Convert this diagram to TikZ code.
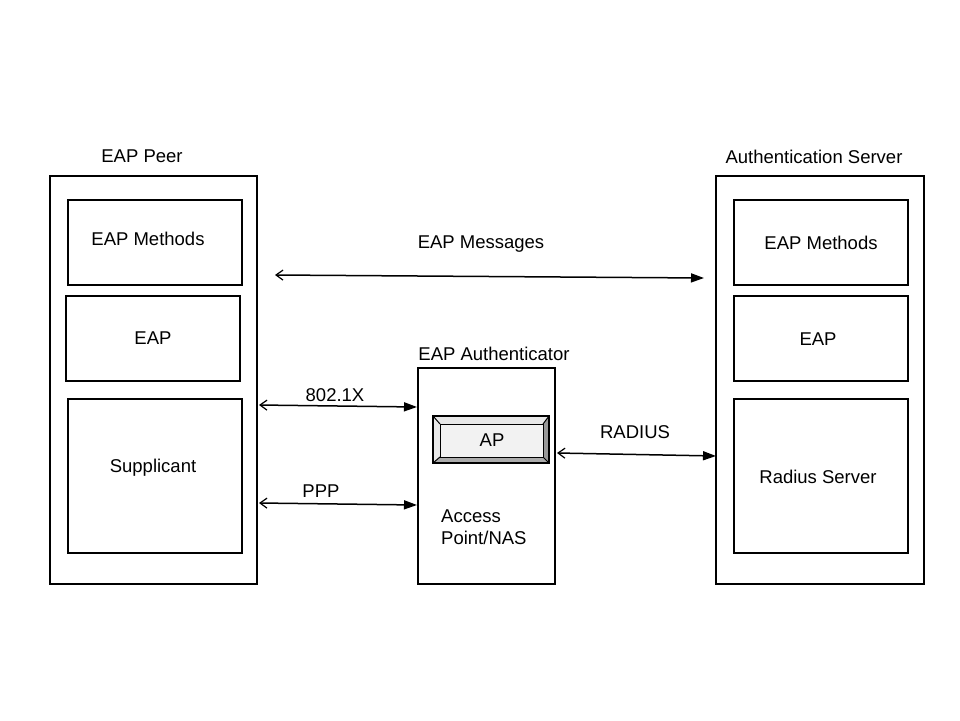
\documentclass[tikz,border=0pt]{standalone}
\usepackage{fontspec}
\setmainfont{Liberation Sans}
\usetikzlibrary{arrows.meta}
\begin{document}
\begin{tikzpicture}[x=1pt,y=-1pt,
  box/.style={draw=black,line width=1.5pt,fill=white},
  lbl/.style={inner sep=0pt,font=\fontsize{18.5}{22}\selectfont},
  arr/.style={line width=1.5pt,{Straight Barb[length=7pt,width=10pt,line width=1.2pt]}-{Triangle[length=13pt,width=9pt]}}]
\useasboundingbox (0,0) rectangle (960,720);
\fill[white] (0,0) rectangle (960,720);
% left column
\draw[box] (50,176) rectangle (257,584);
\draw[box] (68,200) rectangle (242,285);
\draw[box] (66,296) rectangle (240,381);
\draw[box] (68,399) rectangle (242,553);
\node[lbl] (peerlbl) at (142,156) {EAP Peer};
\node[lbl] (lm) at (148,239) {EAP Methods};
\node[lbl] (le) at (153,338) {EAP};
\node[lbl] (ls) at (153,468) {Supplicant};
% right column
\draw[box] (716,176) rectangle (924,584);
\draw[box] (734,200) rectangle (908,285);
\draw[box] (734,296) rectangle (908,381);
\draw[box] (734,399) rectangle (908,553);
\node[lbl] (srvlbl) at (814,157) {Authentication Server};
\node[lbl] (rm) at (821,243) {EAP Methods};
\node[lbl] (re) at (818,339) {EAP};
\node[lbl] (rs) at (818,477) {Radius Server};
% middle
\draw[box] (418,368) rectangle (555,584);
\node[lbl] (authlbl) at (494,354) {EAP Authenticator};
% AP button
\fill[gray!80] (549,416) -- (549,463) -- (543,457) -- (543,424) -- cycle;
\fill[gray!65] (433,463) -- (549,463) -- (543,457) -- (440,457) -- cycle;
\fill[gray!18] (433,416) -- (549,416) -- (543,424) -- (440,424) -- cycle;
\fill[gray!18] (433,416) -- (433,463) -- (440,457) -- (440,424) -- cycle;
\fill[gray!10] (440,424) rectangle (543,457);
\draw[line width=1pt] (440,424) rectangle (543,457);
\draw[line width=1pt] (433,416) -- (440,424) (549,416) -- (543,424) (433,463) -- (440,457) (549,463) -- (543,457);
\draw[line width=1.6pt] (433,416) rectangle (549,463);
\node[lbl] (ap) at (492,440) {AP};
\node[lbl,anchor=west,align=left] (nas) at (441,527) {Access\\Point/NAS};
% connectors
\coordinate (m1) at (275,275);
\coordinate (m2) at (704,278);
\coordinate (x1) at (259,405);
\coordinate (x2) at (417,407);
\coordinate (p1) at (259,503);
\coordinate (p2) at (417,505);
\coordinate (r1) at (557,453);
\coordinate (r2) at (716,456);
\draw[arr] (m1) -- (m2);
\draw[arr] (x1) -- (x2);
\draw[arr] (p1) -- (p2);
\draw[arr] (r1) -- (r2);
\node[lbl] (msg) at (481,244) {EAP Messages};
\node[lbl] (x8021) at (335,395) {802.1X};
\node[lbl] (ppp) at (321,491) {PPP};
\node[lbl] (rad) at (635,432) {RADIUS};
\end{tikzpicture}
\end{document}
